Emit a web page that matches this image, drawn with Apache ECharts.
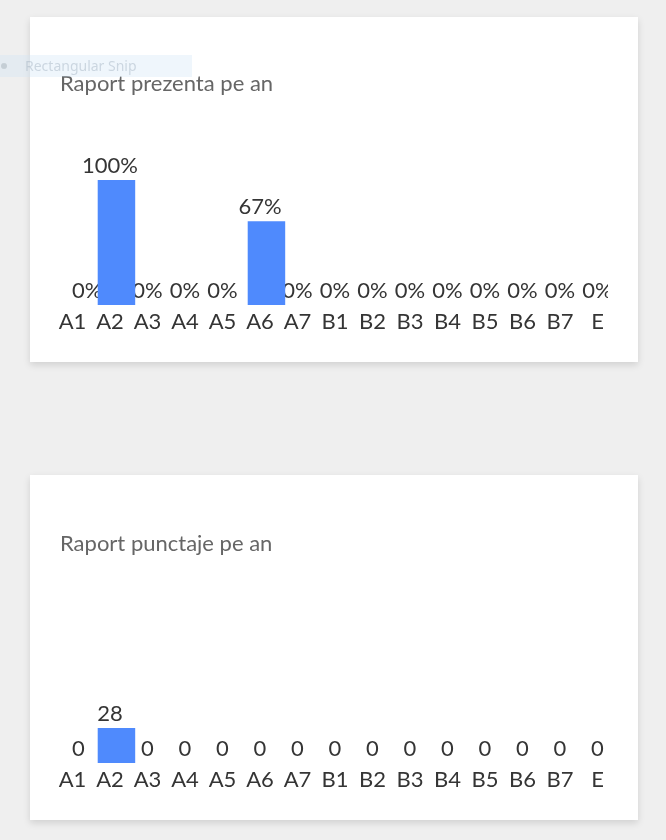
<!DOCTYPE html>
<html>
<head>
<meta charset="utf-8">
<script src="https://cdn.jsdelivr.net/npm/echarts@6/dist/echarts.min.js"></script>
<style>
  html, body { margin:0; padding:0; background:#efefef; width:666px; height:840px; overflow:hidden; }
  .card { position:absolute; left:30px; width:608px; height:345px; background:#fff; box-shadow:0 3px 7px rgba(0,0,0,0.13); }
  .chart { position:absolute; left:0; top:0; width:578px; height:345px; }
  #snip { position:absolute; left:0; top:55px; width:192px; height:22px; background:rgba(205,228,246,0.33); z-index:5;
          font-family:"Noto Sans", sans-serif; font-size:14px; line-height:22px; color:rgba(160,175,190,0.45); }
  #snip span.dot { position:absolute; left:1px; top:8px; width:6px; height:6px; border-radius:3px; background:rgba(160,170,180,0.45); }
  #snip span.t { position:absolute; left:25px; top:0; }
</style>
</head>
<body>
<div class="card" style="top:17px"><div id="c1" class="chart"></div></div>
<div class="card" style="top:475px"><div id="c2" class="chart"></div></div>
<div id="snip"><span class="dot"></span><span class="t">Rectangular Snip</span></div>
<script>
const categories = ['A1','A2','A3','A4','A5','A6','A7','B1','B2','B3','B4','B5','B6','B7','E'];
const prezentaValues = [0,100,0,0,0,67,0,0,0,0,0,0,0,0,0];   // percent
const punctajValues  = [0,28,0,0,0,0,0,0,0,0,0,0,0,0,0];
const yMax = 100;

const FONT = 'Lato';
const TXT = '#353535';
const BAR = '#4f8afd';

function makeOption(title, titleTop, values, fmt) {
  const gridTop = 163;
  const gridH = 125;
  const catW = 37.5;
  const labelLeft = 23.75;
  const barLeft = 30.2;
  return {
    animation: false,
    title: { text: title, left: 25, top: titleTop, padding: [5, 5],
      textStyle: { fontFamily: FONT, fontSize: 22, fontWeight: 'normal', color: '#666666' } },
    grid: [
      { left: labelLeft, width: catW * categories.length, top: gridTop, height: gridH, outerBoundsMode: 'none', containLabel: false },
      { left: barLeft, width: catW * categories.length, top: gridTop, height: gridH, outerBoundsMode: 'none', containLabel: false }
    ],
    xAxis: [
      { type: 'category', gridIndex: 0, data: categories,
        axisLine: { show: false }, axisTick: { show: false },
        axisLabel: { interval: 0, margin: 6, fontFamily: FONT, fontSize: 22, lineHeight: 22, color: TXT } },
      { type: 'category', gridIndex: 1, data: categories, show: false }
    ],
    yAxis: [
      { type: 'value', gridIndex: 0, min: 0, max: yMax, show: false, splitLine: { show: false } },
      { type: 'value', gridIndex: 1, min: 0, max: yMax, show: false, splitLine: { show: false } }
    ],
    series: [
      { type: 'bar', xAxisIndex: 0, yAxisIndex: 0, data: values, barWidth: '100%', z: 1,
        itemStyle: { color: 'rgba(0,0,0,0)' },
        label: { show: true, position: 'top', distance: 3, formatter: fmt,
          fontFamily: FONT, fontSize: 22, lineHeight: 22, color: TXT },
        labelLayout: function (p) {
          const minX = 42;
          if (p.labelRect.x < minX) return { dx: minX - p.labelRect.x };
          return {};
        },
        silent: true },
      { type: 'bar', xAxisIndex: 1, yAxisIndex: 1, data: values, barWidth: '100%', z: 3,
        itemStyle: { color: BAR } }
    ]
  };
}

const c1 = echarts.init(document.getElementById('c1'), null, { renderer: 'canvas' });
c1.setOption(makeOption('Raport prezenta pe an', 51, prezentaValues, '{c}%'));
const c2 = echarts.init(document.getElementById('c2'), null, { renderer: 'canvas' });
c2.setOption(makeOption('Raport punctaje pe an', 53, punctajValues, '{c}'));
</script>
</body>
</html>
